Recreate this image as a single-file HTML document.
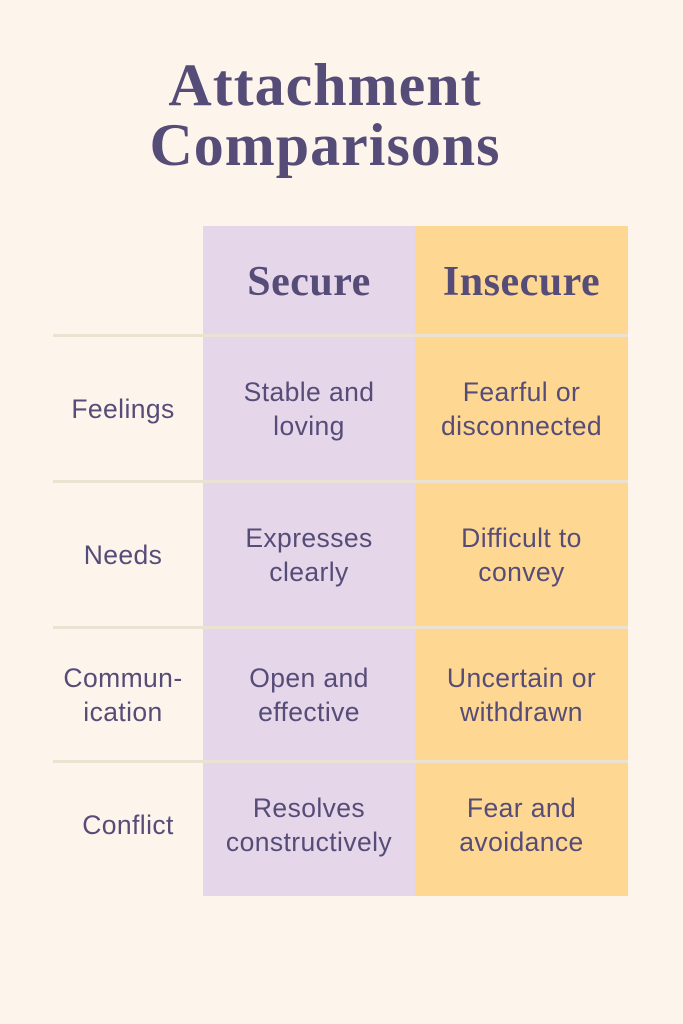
<!DOCTYPE html>
<html><head><style>
body{margin:0;width:683px;height:1024px;background:#fdf5eb;font-family:"Liberation Sans",sans-serif;color:#564c78;position:relative;overflow:hidden}
.t{position:absolute;left:0;width:650px;text-align:center;font-family:"Liberation Serif",serif;font-weight:bold;font-size:60px;line-height:60px;letter-spacing:1px}
.col{position:absolute;top:226px;height:670px}
.c{position:absolute;display:flex;align-items:center;justify-content:center;text-align:center;font-size:26.5px;line-height:34px;letter-spacing:0.4px}
.h{font-family:"Liberation Serif",serif;font-weight:bold;font-size:42px;letter-spacing:0.5px}
.line{position:absolute;left:53px;width:575px;height:3px;background:#ece2d2}
</style></head><body>
<div class="t" style="top:55px">Attachment</div>
<div class="t" style="top:115px">Comparisons</div>
<div class="col" style="left:203px;width:212px;background:#e5d6ea"></div>
<div class="col" style="left:415px;width:213px;background:#fed892"></div>
<div class="line" style="top:334px"></div>
<div class="line" style="top:480px"></div>
<div class="line" style="top:626px"></div>
<div class="line" style="top:760px"></div>
<div class="c h" style="left:203px;width:212px;top:226px;height:112px">Secure</div>
<div class="c h" style="left:415px;width:213px;top:226px;height:112px">Insecure</div>

<div class="c" style="left:53px;width:140px;top:337px;height:143px">Feelings</div>
<div class="c" style="left:203px;width:212px;top:337px;height:143px">Stable and<br>loving</div>
<div class="c" style="left:415px;width:213px;top:337px;height:143px">Fearful or<br>disconnected</div>

<div class="c" style="left:53px;width:140px;top:483px;height:143px">Needs</div>
<div class="c" style="left:203px;width:212px;top:483px;height:143px">Expresses<br>clearly</div>
<div class="c" style="left:415px;width:213px;top:483px;height:143px">Difficult to<br>convey</div>

<div class="c" style="left:53px;width:140px;top:629px;height:131px">Commun-<br>ication</div>
<div class="c" style="left:203px;width:212px;top:629px;height:131px">Open and<br>effective</div>
<div class="c" style="left:415px;width:213px;top:629px;height:131px">Uncertain or<br>withdrawn</div>

<div class="c" style="left:58px;width:140px;top:763px;height:123px">Conflict</div>
<div class="c" style="left:203px;width:212px;top:763px;height:123px">Resolves<br>constructively</div>
<div class="c" style="left:415px;width:213px;top:763px;height:123px">Fear and<br>avoidance</div>
</body></html>
